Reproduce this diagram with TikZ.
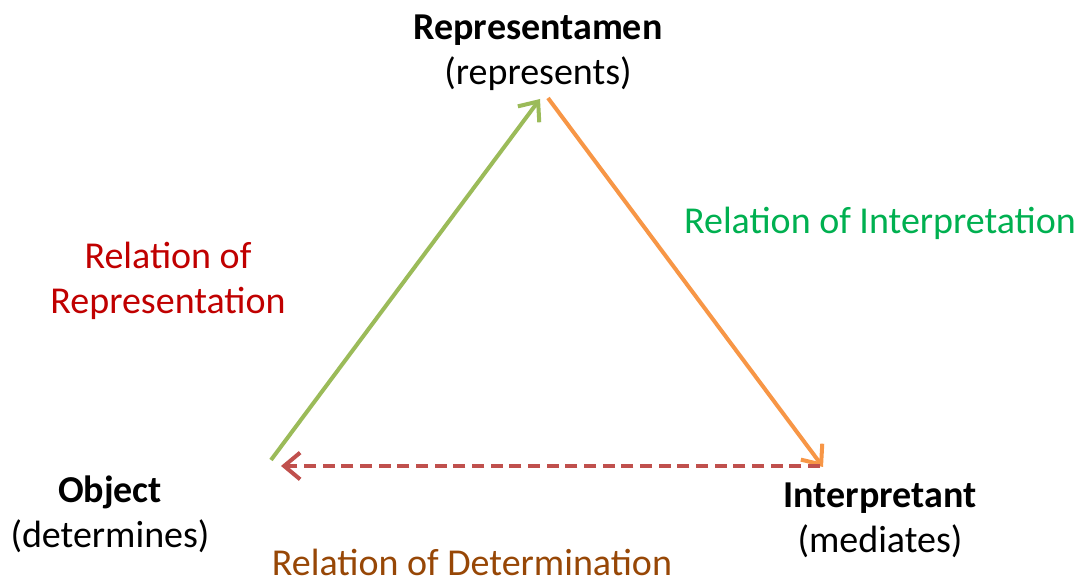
\documentclass[tikz,border=0pt]{standalone}
\usepackage{fontspec}
\setmainfont{Carlito}
\usetikzlibrary{arrows.meta}
\definecolor{relgreen}{HTML}{9BBB59}
\definecolor{relorange}{HTML}{F79646}
\definecolor{relred}{HTML}{C0504D}
\definecolor{txtred}{HTML}{C00000}
\definecolor{txtgreen}{HTML}{00B050}
\definecolor{txtbrown}{HTML}{974706}
\tikzset{
  corner/.style={align=center, font=\fontsize{28.5}{33.75}\selectfont, inner sep=0pt, anchor=base},
  rellabel/.style={align=center, font=\fontsize{28.5}{33.75}\selectfont, inner sep=0pt, anchor=base},
  relarrow/.style={line width=3pt, -{Straight Barb[length=12pt, width=20pt, line width=3pt]}},
}
\begin{document}
\begin{tikzpicture}[x=0.75pt, y=-0.75pt]
\useasboundingbox (0,0) rectangle (1083,584);

% the three corners of the sign relation (anchored at the last baseline)
\node[corner] (rep) at (538,85) {\textbf{Representamen}\\(represents)};
\node[corner] (obj) at (110,548) {\textbf{Object}\\(determines)};
\node[corner] (int) at (880,553) {\textbf{Interpretant}\\(mediates)};

% end points of the relation arrows
\coordinate (objA) at (271,460);
\coordinate (repA) at (540,99);
\coordinate (repB) at (548,98);
\coordinate (intA) at (823,467);
\coordinate (intB) at (820,466);
\coordinate (objB) at (281,466);

\draw[relarrow, relgreen] (objA) -- (repA);
\draw[relarrow, relorange] (repB) -- (intA);
\draw[relarrow, relred, dash pattern=on 9pt off 5pt] (intB) -- (objB);

% relation labels
\node[rellabel, text=txtred] (lrep) at (168,314) {Relation of\\Representation};
\node[rellabel, text=txtgreen] (lint) at (880,234) {Relation of Interpretation};
\node[rellabel, text=txtbrown] (ldet) at (472,576) {Relation of Determination};
\end{tikzpicture}
\end{document}
